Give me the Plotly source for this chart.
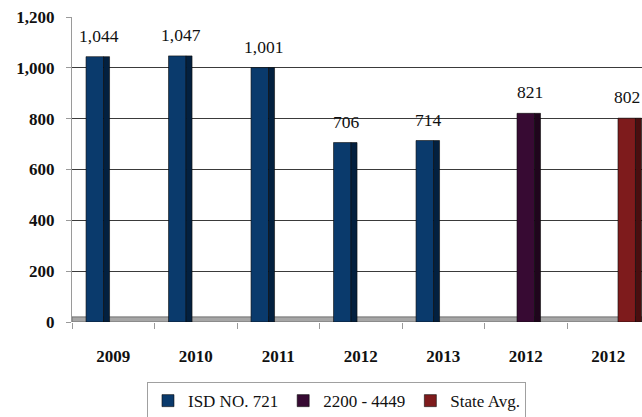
import plotly.graph_objects as go

categories = ["2009", "2010", "2011", "2012", "2013", "2012", "2012"]
isd_721 = [1044, 1047, 1001, 706, 714, None, None]
group_2200_4449 = [None, None, None, None, None, 821, None]
state_avg = [None, None, None, None, None, None, 802]
series_names = ["ISD NO. 721", "2200 - 4449", "State Avg."]
y_ticks = [0, 200, 400, 600, 800, 1000, 1200]

series_values = [isd_721, group_2200_4449, state_avg]
front_colors = ["#0a3a6c", "#370a33", "#7e1b1c"]
side_colors = ["#03203f", "#1f051c", "#4a0e0f"]

FONT = "Liberation Serif, Times New Roman, serif"
x_idx = list(range(len(categories)))
front_w = 0.212
side_w = 0.073
slot = 0.224
first_off = -0.33
x_max = 6.409

fig = go.Figure()
annotations = []
for k, (name, vals) in enumerate(zip(series_names, series_values)):
    off = first_off + slot * k
    fig.add_trace(go.Bar(
        x=x_idx, y=vals, name=name, offset=off, width=front_w,
        marker=dict(color=front_colors[k], line=dict(color="#0c0c0c", width=0.6)),
        showlegend=True,
    ))
    fig.add_trace(go.Bar(
        x=x_idx, y=vals, name=name + " side", offset=off + front_w, width=side_w,
        marker=dict(color=side_colors[k], line=dict(color="#0c0c0c", width=0.6)),
        showlegend=False, hoverinfo="skip",
    ))
    for i, v in zip(x_idx, vals):
        if v is None:
            continue
        cx = i + off + (front_w + side_w) / 2 + 0.01
        anchor = "center"
        if cx + 0.24 > x_max:
            cx, anchor = x_max - 0.005, "right"
        annotations.append(dict(
            x=cx, y=v, xref="x", yref="y", xanchor=anchor,
            text=f"{v:,}", showarrow=False, yanchor="bottom", yshift=9,
            font=dict(family=FONT, size=17.5, color="#111"),
        ))

fig.update_layout(
    width=642, height=417,
    margin=dict(l=72, r=0, t=17, b=95, autoexpand=False),
    paper_bgcolor="white", plot_bgcolor="white",
    barmode="overlay",
    font=dict(family=FONT, size=17, color="#111"),
    annotations=annotations,
    shapes=[dict(type="rect", xref="paper", yref="y", x0=0, x1=1, y0=0, y1=20,
                 fillcolor="#a6a6a6", line=dict(color="#707070", width=1), layer="between")],
    legend=dict(
        orientation="h", xanchor="center", x=0.464, yanchor="top", y=-0.197,
        bordercolor="#a0a0a0", borderwidth=1, bgcolor="white",
        font=dict(family=FONT, size=17, color="#111"),
        itemwidth=30, traceorder="normal",
    ),
    xaxis=dict(
        range=[-0.5, x_max], tickvals=x_idx, ticktext=categories,
        ticks="", showgrid=False, zeroline=False, showline=False,
        automargin=False,
        tickfont=dict(family=FONT, size=17, color="#111", weight="bold"),
        ticklabelstandoff=22,
        minor=dict(tick0=0.5, dtick=1, ticks="outside", ticklen=6,
                   tickcolor="#9a9a9a", showgrid=False),
    ),
    yaxis=dict(
        range=[0, 1200], tickvals=y_ticks,
        ticktext=[f"{t:,}" for t in y_ticks],
        showgrid=True, gridcolor="#3a3a3a", gridwidth=1,
        zeroline=False, showline=True, linecolor="#9a9a9a",
        automargin=False,
        ticks="outside", ticklen=5, tickcolor="#9a9a9a",
        tickfont=dict(family=FONT, size=17, color="#111", weight="bold"),
        ticklabelstandoff=8,
    ),
)

fig.write_html(
    "out.html",
    config={"displayModeBar": False},
    post_script="document.body.style.margin='0';document.body.style.padding='0';document.body.style.overflow='hidden';",
)
